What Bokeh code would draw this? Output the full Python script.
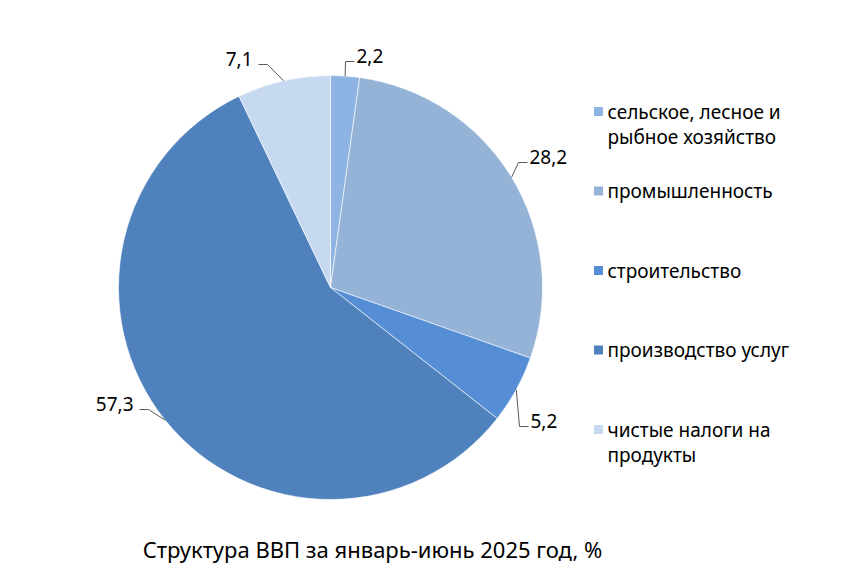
import math
from bokeh.plotting import figure
from bokeh.models import Range1d, ColumnDataSource
from bokeh.core.properties import value
from bokeh.embed import file_html
from bokeh.resources import INLINE

# ---- data ----
categories = ["сельское, лесное и\nрыбное хозяйство", "промышленность", "строительство",
              "производство услуг", "чистые налоги на\nпродукты"]
shares = [2.2, 28.2, 5.2, 57.3, 7.1]
colors = ["#8DB4E2", "#95B3D7", "#558ED5", "#4F81BD", "#C6D9F1"]
title_text = "Структура ВВП за январь-июнь 2025 год, %"

# ---- layout (page pixels) ----
W, H = 864, 575
FONT = "Noto Sans"
CX, CY, R = 330, 287, 212
label_pos = [(356, 55, "left"), (529, 156, "left"), (530, 420, "left"),
             (133, 403, "right"), (252, 58, "right")]
legend_x, legend_y0, legend_step, legend_line = 598, 111, 79.5, 25
title_pos = (372, 548)


def Y(py):
    return H - py


p = figure(width=W, height=H, output_backend="svg", toolbar_location=None,
           x_range=Range1d(0, W), y_range=Range1d(0, H), min_border=0)
p.axis.visible = False
p.grid.visible = False
p.outline_line_color = None
p.background_fill_color = "white"
p.border_fill_color = "white"

total = sum(shares)
starts, ends, mids = [], [], []
cum = 0.0
for s in shares:
    f0 = cum / total
    cum += s
    f1 = cum / total
    starts.append(math.pi / 2 - 2 * math.pi * f0)
    ends.append(math.pi / 2 - 2 * math.pi * f1)
    mids.append(math.pi / 2 - 2 * math.pi * (f0 + f1) / 2)

src = ColumnDataSource(dict(start=starts, end=ends, color=colors))
p.wedge(x=CX, y=Y(CY), radius=R, start_angle="start", end_angle="end",
        direction="clock", fill_color="color", line_color="white", line_width=0.6,
        source=src)

# leader lines and value labels
xs, ys = [], []
for m, (tx, ty, al) in zip(mids, label_pos):
    ex = CX + R * math.cos(m)
    ey = Y(CY) + R * math.sin(m)
    ly = Y(ty + 6)
    if al == "left":
        endx = tx - 2
        elbx = endx - 9
    else:
        endx = tx + 6
        elbx = endx + 9
    xs.append([ex, elbx, endx])
    ys.append([ey, ly, ly])
p.multi_line(xs=xs, ys=ys, line_color="#595959", line_width=1)

for s, (tx, ty, al) in zip(shares, label_pos):
    p.text(x=[tx], y=[Y(ty)], text=[f"{s:.1f}".replace(".", ",")],
           text_align=al, text_baseline="middle", text_font=value(FONT),
           text_font_size="19px", text_color="#000000")

# legend
for i, (cat, col) in enumerate(zip(categories, colors)):
    yy = legend_y0 + i * legend_step
    p.scatter(x=[legend_x], y=[Y(yy)], marker="square", size=9, fill_color=col, line_color=None)
    for j, line in enumerate(cat.split("\n")):
        p.text(x=[legend_x + 9], y=[Y(yy + j * legend_line)], text=[line],
               text_align="left", text_baseline="middle", text_font=value(FONT),
               text_font_size="19px", text_color="#000000")

# title
p.text(x=[title_pos[0]], y=[Y(title_pos[1])], text=[title_text], text_align="center",
       text_baseline="middle", text_font=value(FONT), text_font_size="22px",
       text_color="#000000")

open("out.html", "w").write(file_html(p, INLINE))
